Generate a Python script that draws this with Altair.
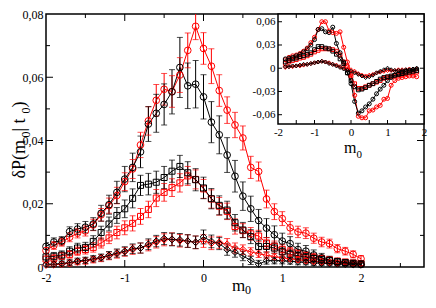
import altair as alt
import pandas as pd

FONT = "Liberation Serif"
W, H = 378, 253
PAD = {"left": 38, "top": 6, "right": 4, "bottom": 31}
IX0, IY1 = 232, 110

# ---------------- data ----------------
X_MAIN = [round(-2.0 + 0.1 * i, 1) for i in range(41)]
X_INSET = [round(-1.8 + 0.1 * i, 1) for i in range(37)]

bc = [.0065, .0079, .0083, .0112, .0120, .0126, .0136, .0170, .0197, .0236, .0278,
      .0315, .0364, .0452, .0486, .0514, .0554, .0631, .0573, .0578, .0538,
      .0458, .0418, .0354, .0287, .0224, .0184, .0147, .0123, .0102, .0082,
      .0074, .0055, .0050, .0038, .0029, .0022, .0017, .0013, .0010, .0008]
bc_err = [.0012, .0013, .0013, .0015, .0017, .0018, .0020, .0025, .0030, .0035, .0040,
          .0045, .0050, .0055, .0060, .0065, .0070, .0095, .0072, .0075, .0070,
          .0065, .0060, .0055, .0050, .0045, .0040, .0035, .0030, .0028, .0025,
          .0022, .0020, .0018, .0016, .0014, .0012, .0010, .0009, .0008, .0007]
rc = [.0052, .0068, .0079, .0094, .0107, .0114, .0133, .0165, .0194, .0226, .0270,
      .0310, .0386, .0462, .0527, .0562, .0555, .0607, .0685, .0761, .0691,
      .0635, .0558, .0496, .0449, .0408, .0315, .0302, .0215, .0175, .0153,
      .0124, .0111, .0107, .0091, .0079, .0074, .0058, .0050, .0040, .0026]
rc_err = [.0010, .0012, .0013, .0014, .0015, .0016, .0018, .0020, .0024, .0026, .0028,
          .0030, .0040, .0045, .0050, .0050, .0050, .0055, .0055, .0042, .0050,
          .0055, .0050, .0042, .0040, .0038, .0035, .0030, .0028, .0025, .0022,
          .0020, .0018, .0017, .0016, .0015, .0014, .0013, .0012, .0011, .0010]
bs = [.0032, .0034, .0038, .0050, .0060, .0062, .0081, .0109, .0136, .0163, .0184,
      .0217, .0258, .0262, .0268, .0283, .0303, .0318, .0298, .0276, .0250,
      .0216, .0195, .0180, .0140, .0117, .0096, .0065, .0065, .0060, .0048,
      .0040, .0035, .0031, .0027, .0023, .0020, .0017, .0014, .0012, .0010]
bs_err = [.0012, .0012, .0013, .0014, .0015, .0016, .0018, .0020, .0022, .0025, .0028,
          .0030, .0032, .0034, .0035, .0035, .0035, .0035, .0035, .0035, .0034,
          .0032, .0030, .0028, .0026, .0024, .0022, .0020, .0018, .0016, .0015,
          .0014, .0013, .0012, .0011, .0010, .0009, .0008, .0008, .0007, .0007]
rs = [.0025, .0028, .0035, .0040, .0050, .0055, .0062, .0076, .0092, .0109, .0124,
      .0138, .0160, .0182, .0218, .0236, .0251, .0266, .0288, .0277, .0247,
      .0215, .0192, .0176, .0128, .0115, .0105, .0098, .0076, .0066, .0056,
      .0048, .0042, .0036, .0031, .0027, .0023, .0019, .0016, .0013, .0011]
rs_err = [.0010, .0010, .0011, .0012, .0013, .0014, .0015, .0016, .0018, .0020, .0022,
          .0024, .0025, .0026, .0027, .0028, .0028, .0029, .0030, .0030, .0030,
          .0029, .0028, .0026, .0024, .0022, .0020, .0018, .0017, .0016, .0015,
          .0014, .0013, .0012, .0011, .0010, .0009, .0008, .0008, .0007, .0007]
bd = [.0009, .0009, .0011, .0014, .0019, .0021, .0026, .0030, .0037, .0044, .0050,
      .0058, .0060, .0072, .0082, .0090, .0087, .0086, .0082, .0078, .0095,
      .0081, .0074, .0055, .0047, .0035, .0021, .0009, .0020, .0020, .0020,
      .0018, .0016, .0015, .0013, .0012, .0011, .0010, .0009, .0008, .0007]
bd_err = [.0008, .0008, .0008, .0009, .0009, .0010, .0010, .0011, .0012, .0013, .0014,
          .0015, .0016, .0017, .0018, .0019, .0020, .0020, .0020, .0020, .0022,
          .0020, .0019, .0018, .0016, .0015, .0013, .0012, .0011, .0010, .0010,
          .0009, .0009, .0008, .0008, .0007, .0007, .0007, .0006, .0006, .0006]
rd = [.0006, .0007, .0009, .0012, .0016, .0019, .0023, .0028, .0035, .0041, .0048,
      .0055, .0060, .0068, .0078, .0086, .0088, .0083, .0082, .0078, .0082,
      .0075, .0078, .0072, .0060, .0055, .0048, .0042, .0037, .0033, .0029,
      .0026, .0023, .0020, .0018, .0016, .0014, .0012, .0011, .0010, .0009]
rd_err = [.0008, .0008, .0008, .0009, .0009, .0010, .0010, .0011, .0012, .0013, .0014,
          .0015, .0016, .0017, .0018, .0019, .0020, .0020, .0020, .0020, .0020,
          .0020, .0019, .0018, .0016, .0015, .0013, .0012, .0011, .0010, .0010,
          .0009, .0009, .0008, .0008, .0007, .0007, .0007, .0006, .0006, .0006]

# inset (x from -1.8 to 1.8)
bci = [.012, .013, .014, .016, .018, .021, .025, .030, .037, .050, .051, .047, .046,
       .053, .032, .020, .008, -.006, -.020, -.043, -.058, -.055, -.050, -.046, -.040,
       -.033, -.027, -.022, -.016, -.012, -.009, -.007, -.005, -.004, -.003, -.002, -.001]
rci = [.011, .014, .016, .017, .019, .022, .026, .033, .040, .050, .060, .060, .048,
       .046, .045, .047, .027, .008, -.008, -.035, -.062, -.064, -.064, -.055, -.054,
       -.050, -.048, -.040, -.039, -.022, -.016, -.013, -.012, -.011, -.010, -.010, -.011]
bsi = [.008, .010, .012, .013, .015, .016, .018, .020, .024, .028, .028, .026, .025,
       .022, .018, .012, .006, -.006, -.016, -.024, -.028, -.027, -.025, -.022, -.020,
       -.017, -.014, -.012, -.011, -.010, -.009, -.008, -.007, -.006, -.005, -.004, -.003]
rsi = [.006, .008, .010, .011, .013, .014, .016, .018, .021, .023, .025, .025, .025,
       .024, .022, .017, .008, .002, -.010, -.020, -.026, -.026, -.024, -.022, -.020,
       -.018, -.016, -.013, -.012, -.011, -.010, -.009, -.008, -.007, -.006, -.006, -.005]
bdi = [.002, .002, .003, .003, .004, .005, .005, .006, .007, .008, .009, .008, .006,
       .005, .003, .001, -.001, -.003, -.004, -.006, -.008, -.010, -.012, -.011, -.009,
       -.006, -.004, -.002, .000, -.002, -.003, -.003, -.003, -.002, -.002, -.001, .000]
rdi = [.001, .002, .002, .003, .003, .004, .005, .006, .007, .008, .009, .008, .007,
       .005, .004, .002, .000, -.001, -.002, -.004, -.007, -.009, -.010, -.009, -.008,
       -.006, -.005, -.004, -.003, -.003, -.003, -.002, -.002, -.002, -.001, -.001, -.001]

BLACK, RED = "#000000", "#ff0000"

MAIN_SERIES = [
    ("rd", RED, "diamond", 45, rd, rd_err),
    ("rs", RED, "square", 36, rs, rs_err),
    ("rc", RED, "circle", 45, rc, rc_err),
    ("bd", BLACK, "diamond", 45, bd, bd_err),
    ("bs", BLACK, "square", 36, bs, bs_err),
    ("bc", BLACK, "circle", 45, bc, bc_err),
]
INSET_SERIES = [
    ("rd", RED, "diamond", 16, rdi, None),
    ("rs", RED, "square", 14, rsi, None),
    ("rc", RED, "circle", 16, rci, None),
    ("bd", BLACK, "diamond", 16, bdi, None),
    ("bs", BLACK, "square", 14, bsi, None),
    ("bc", BLACK, "circle", 16, bci, None),
]


def build(xvals, specs):
    rows = []
    for name, color, shape, size, yv, ev in specs:
        for i, (x, y) in enumerate(zip(xvals, yv)):
            e = ev[i] if ev else 0.0
            rows.append(dict(x=x, y=y, lo=y - e, hi=y + e, series=name,
                             color=color, shape=shape, msize=size))
    return pd.DataFrame(rows)


df_main = build(X_MAIN, MAIN_SERIES)
df_inset = build(X_INSET, INSET_SERIES)

MAIN_XT_MAJOR = [-1, 0, 1, 2]
MAIN_XT_MINOR = [-1.5, -0.5, 0.5, 1.5, 2.5]
MAIN_YT_MAJOR = [0.02, 0.04, 0.06]
MAIN_YT_MINOR = [0.01, 0.03, 0.05, 0.07]
INSET_XT = [-1.5, -1, -0.5, 0, 0.5, 1, 1.5]
INSET_YT = [-0.06, -0.03, 0, 0.03, 0.06]
INSET_BOX = pd.DataFrame({"x0": [-2], "x1": [2], "y0": [-0.072], "y1": [0.07]})

# ---------------- scales / axes ----------------
xs = alt.Scale(domain=[-2, 2.8], nice=False, zero=False)
ys = alt.Scale(domain=[0, 0.08], nice=False, zero=False)
ixs = alt.Scale(domain=[-2, 2], range=[IX0, W], nice=False, zero=False)
iys = alt.Scale(domain=[-0.072, 0.07], range=[IY1, 0], nice=False, zero=False)

common = dict(ticks=False, domain=False, grid=False, title=None, labelFont=FONT,
              labelColor="black", labelFlush=False)
XAX = alt.Axis(values=[-2, -1, 0, 1, 2], labelExpr="toString(datum.value)",
               labelFontSize=12, labelPadding=5, **common)
YAX = alt.Axis(values=[0, 0.02, 0.04, 0.06, 0.08],
               labelExpr="datum.value == 0 ? '0' : replace(toString(datum.value), '.', ',')",
               labelFontSize=12, labelPadding=3, **common)
IXAX = alt.Axis(orient="bottom", offset=-(H - IY1), values=[-2, -1, 0, 1, 2],
                labelExpr="toString(datum.value)", labelFontSize=11, labelPadding=2, **common)
IYAX = alt.Axis(orient="left", offset=-IX0, values=INSET_YT,
                labelExpr="datum.value == 0 ? '0' : replace(toString(datum.value), '.', ',')",
                labelFontSize=11, labelPadding=3, **common)

COL = alt.Color("color:N", scale=None)
SHP = alt.Shape("shape:N", scale=None)
SZ = alt.Size("msize:Q", scale=None)


def vticks(vals, scale, axis, y0, y1):
    return alt.Chart(pd.DataFrame({"v": vals})).mark_rule(color="black", strokeWidth=1).encode(
        x=alt.X("v:Q", scale=scale, axis=axis), y=alt.value(y0), y2=alt.value(y1))


def hticks(vals, scale, axis, x0, x1):
    return alt.Chart(pd.DataFrame({"v": vals})).mark_rule(color="black", strokeWidth=1).encode(
        y=alt.Y("v:Q", scale=scale, axis=axis), x=alt.value(x0), x2=alt.value(x1))


def txt(s, x, y, size, angle=0):
    return alt.Chart(pd.DataFrame({"t": [s]})).mark_text(
        font=FONT, fontSize=size, align="left", baseline="alphabetic", angle=angle, color="black"
    ).encode(x=alt.value(x), y=alt.value(y), text="t:N")


# ---------------- main panel ----------------
mb = alt.Chart(df_main)
mx = alt.X("x:Q", scale=xs, axis=XAX)
my = alt.Y("y:Q", scale=ys, axis=YAX)

m_err = mb.mark_rule(strokeWidth=1, clip=True).encode(
    x=mx, y=alt.Y("lo:Q", scale=ys, axis=YAX), y2="hi:Q", color=COL)
m_cap_lo = mb.mark_tick(orient="horizontal", size=6, thickness=1, clip=True).encode(
    x=mx, y=alt.Y("lo:Q", scale=ys, axis=YAX), color=COL)
m_cap_hi = mb.mark_tick(orient="horizontal", size=6, thickness=1, clip=True).encode(
    x=mx, y=alt.Y("hi:Q", scale=ys, axis=YAX), color=COL)
m_line = mb.mark_line(strokeWidth=1).encode(x=mx, y=my, detail="series:N", color=COL, order="x:Q")
m_pts = mb.mark_point(filled=False, strokeWidth=1, opacity=1).encode(
    x=mx, y=my, shape=SHP, size=SZ, color=COL)

TY0 = H / 2 + 38
main = alt.layer(
    vticks(MAIN_XT_MAJOR, xs, XAX, H, H - 7),
    vticks(MAIN_XT_MINOR, xs, XAX, H, H - 4),
    vticks(MAIN_XT_MAJOR, xs, XAX, 0, 7),
    vticks(MAIN_XT_MINOR, xs, XAX, 0, 4),
    hticks(MAIN_YT_MAJOR, ys, YAX, 0, 7),
    hticks(MAIN_YT_MINOR, ys, YAX, 0, 4),
    hticks(MAIN_YT_MAJOR, ys, YAX, W, W - 7),
    hticks(MAIN_YT_MINOR, ys, YAX, W, W - 4),
    m_err, m_cap_lo, m_cap_hi, m_line, m_pts,
    txt("m", 186, H + 24, 17),
    txt("0", 199, H + 27, 12),
    txt("\u03b4P(m", -21, TY0, 18, 270),
    txt("0", -16, TY0 - 41, 12, 270),
    txt(" | t", -21, TY0 - 47, 18, 270),
    txt("0", -16, TY0 - 65, 12, 270),
    txt(")", -21, TY0 - 71, 18, 270),
)

# ---------------- inset ----------------
ib = alt.Chart(df_inset)
ix = alt.X("x:Q", scale=ixs, axis=IXAX)
iy = alt.Y("y:Q", scale=iys, axis=IYAX)

i_box = alt.Chart(INSET_BOX).mark_rect(fill="white", stroke="black", strokeWidth=1.5).encode(
    x=alt.X("x0:Q", scale=ixs, axis=IXAX), x2="x1:Q",
    y=alt.Y("y0:Q", scale=iys, axis=IYAX), y2="y1:Q")
i_line = ib.mark_line(strokeWidth=1).encode(x=ix, y=iy, detail="series:N", color=COL, order="x:Q")
i_pts = ib.mark_point(filled=False, strokeWidth=1, opacity=1).encode(
    x=ix, y=iy, shape=SHP, size=SZ, color=COL)

inset = alt.layer(
    i_box,
    vticks(INSET_XT, ixs, IXAX, IY1, IY1 - 4),
    vticks(INSET_XT, ixs, IXAX, 0, 4),
    hticks(INSET_YT, iys, IYAX, IX0, IX0 + 4),
    hticks(INSET_YT, iys, IYAX, W, W - 4),
    i_line, i_pts,
    txt("m", 298, IY1 + 29, 16),
    txt("0", 310.5, IY1 + 34, 11),
)

chart = alt.layer(main, inset).resolve_scale(
    x="independent", y="independent"
).properties(
    width=W, height=H, padding=PAD, autosize=alt.AutoSizeParams(type="none")
).configure_view(stroke="black", strokeWidth=1.5)

chart.save("out.html", embed_options={"renderer": "svg", "actions": False})
